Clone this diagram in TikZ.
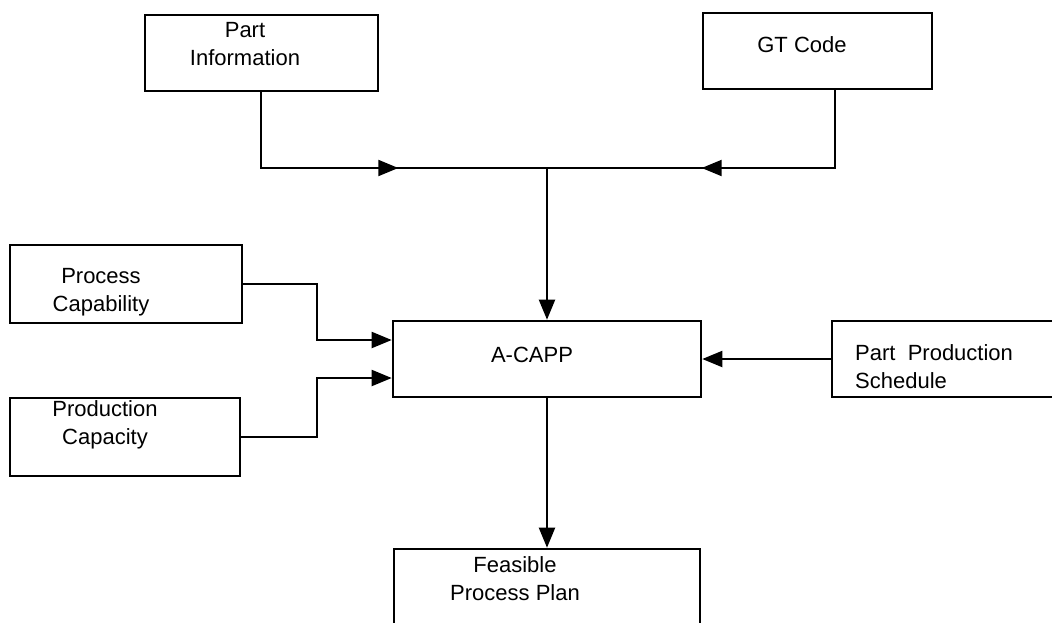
\documentclass[tikz,border=0pt]{standalone}
\usepackage{fontspec}
\setmainfont{Liberation Sans}
\usetikzlibrary{arrows.meta,calc,decorations.markings}

\tikzset{
  box/.style={draw, line width=2.6pt, rectangle, inner sep=0pt},
  lbl/.style={inner sep=0pt, font=\fontsize{22}{28}\selectfont},
  conn/.style={line width=2pt},
  tip/.style={-{Triangle[length=20pt,width=16pt]}},
  midtip/.style={postaction={decorate, decoration={markings,
      mark=at position #1 with {\arrow{Triangle[length=20pt,width=16pt]}}}}}
}

\begin{document}
\begin{tikzpicture}[x={(1pt,0)}, y={(0,-1pt)}]
  \useasboundingbox (0,0) rectangle (1052,622);

  % boxes
  \node[box, minimum width=233pt, minimum height=76pt] (pinfo) at (261.5,53) {};
  \node[box, minimum width=229pt, minimum height=76pt] (gt)    at (817.5,51) {};
  \node[box, minimum width=232pt, minimum height=78pt] (pcap)  at (126,284) {};
  \node[box, minimum width=230pt, minimum height=78pt] (pcty)  at (125,437) {};
  \node[box, minimum width=308pt, minimum height=76pt] (acapp) at (547,359) {};
  \node[box, minimum width=238pt, minimum height=76pt] (pps)   at (951,359) {};
  \node[box, minimum width=306pt, minimum height=91pt] (fpp)   at (547,594.5) {};

  % labels
  \node[lbl, align=center] (tpinfo) at (245,44) {Part\\Information};
  \node[lbl] (tgt) at (802,45) {GT Code};
  \node[lbl, align=center] (tpcap) at (101,292) {Process\\Capability};
  \node[lbl, align=center] (tpcty) at (105,425) {Production\\Capacity};
  \node[lbl] (tacapp) at (532,355) {A-CAPP};
  \node[lbl, align=left, anchor=west] (tpps) at (855,367) {Part\ \ Production\\Schedule};
  \node[lbl, align=center] (tfpp) at (515,579) {Feasible\\Process Plan};

  % junction above A-CAPP
  \coordinate (jn) at (547,168);

  % connectors
  \draw[conn, midtip=213pt] ([xshift=-0.5pt]pinfo.south) |- (jn);
  \draw[conn, midtip=211pt] ([xshift=17.5pt]gt.south) |- (jn);
  \draw[conn, tip] (jn) -- (acapp.north);
  \draw[conn, tip] (pcap.east) -- ++(74,0) |- ($(acapp.west)+(0,-19)$);
  \draw[conn, tip] (pcty.east) -- ++(76,0) |- ($(acapp.west)+(0,19)$);
  \draw[conn, tip] (pps.west) -- (acapp.east);
  \draw[conn, tip] (acapp.south) -- (fpp.north);
\end{tikzpicture}
\end{document}
